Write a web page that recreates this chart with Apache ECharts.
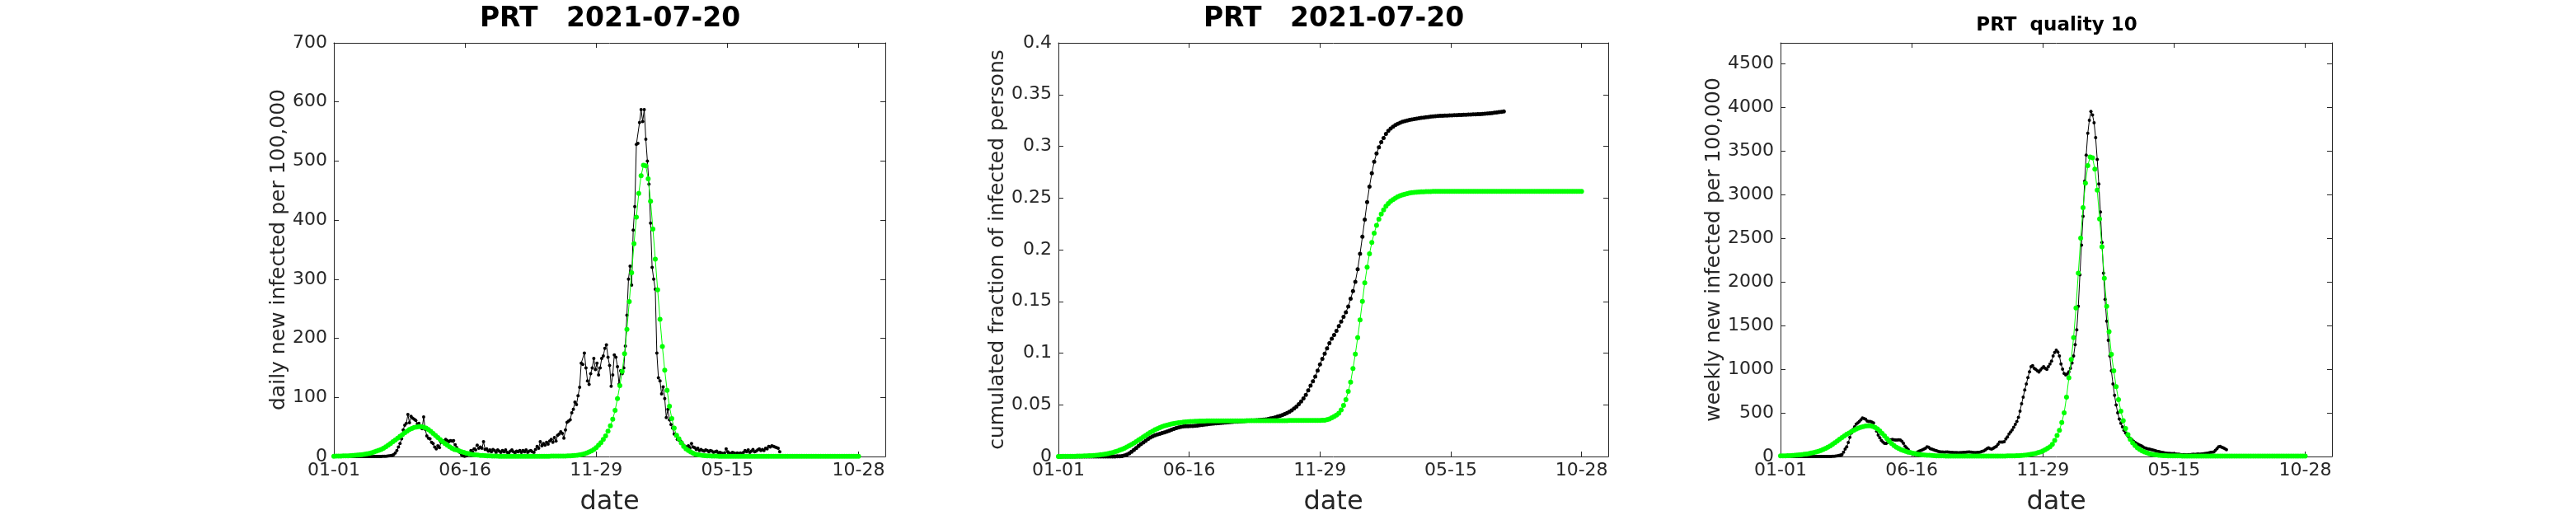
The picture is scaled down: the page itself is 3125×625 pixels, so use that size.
<!DOCTYPE html>
<html><head><meta charset="utf-8">
<script src="https://cdn.jsdelivr.net/npm/echarts@6/dist/echarts.min.js"></script>
<style>html,body{margin:0;padding:0;background:#fff}#c{width:3125px;height:625px}</style>
</head><body><div id="c"></div>
<script>
// ---------------- data ----------------
const xTickDays = [0, 166.5, 333, 499.5, 666];
const xTickLabels = ['01-01', '06-16', '11-29', '05-15', '10-28'];
const xMaxDay = 700;

const titles = ['PRT   2021-07-20', 'PRT   2021-07-20', 'PRT  quality 10'];
const yNames = ['daily new infected per 100,000', 'cumulated fraction of infected persons', 'weekly new infected per 100,000'];
const xName = 'date';
const yMax = [700, 0.4, 4736];
const yTicks1 = [0, 100, 200, 300, 400, 500, 600, 700];
const yTicks2 = [0, 0.05, 0.1, 0.15, 0.2, 0.25, 0.3, 0.35, 0.4];
const yTicks3 = [0, 500, 1000, 1500, 2000, 2500, 3000, 3500, 4000, 4500];

// day spacing of the stored samples
const observedStep = 2;   // daily & weekly observations: one value every 2 days from day 0
const modelStep = 3;      // model curves and cumulated values: one value every 3 days from day 0

// panel 1: daily new infected per 100,000 (observed, every 2 days)
const dailyObserved = [
0,0,0,0,0,0,0,0,0,0,
0,0,0,0,0,0,0,0,0,0,
0,0,0,0,0,0,0,0,0,0,
0,0.2,0.3,0.5,0.8,1,1.5,2,3,6,
10,16,22,30,45,53,56,71,57,68,
65,63,61,55,56,50,47,67,46,35,
31,30,24,22,16,13,18,15,24,27,
26,29,27,25,27,26,27,20,15,11,
7,3,1,0.5,1,3,6,10,8,13,
11,19,14,16,14,25,12,13,9,11,
8,12,10,7,11,9,7,10,8,11,
7,6,9,11,8,6,9,8,10,7,
10,8,11,7,9,10,8,7,12,17,
14,25,18,22,19,24,21,26,29,24,
32,26,36,38,42,39,31,45,58,60,
62,74,80,92,88,103,117,158,156,175,
150,128,122,140,150,166,147,158,138,150,
166,170,183,189,168,154,119,138,172,168,
152,122,145,140,150,187,239,300,322,290,
383,423,528,530,565,587,567,587,537,500,
461,395,320,300,283,175,133,128,106,118,
98,66,80,62,54,48,38,35,29,28,
26,24,19,17,15,18,14,22,16,15,
12,14,10,12,10,9,11,10,8,10,
9,7,8,9,6,7,6,5,6,13,
8,6,5,7,6,5,6,5,6,5,
7,10,8,11,7,9,12,8,9,11,
13,10,12,10,14,13,17,16,18,17,
16,15,14,8];

// panel 1: daily model (every 3 days)
const dailyModel = [
0.5,0.6,0.7,0.8,0.9,1.0,1.2,1.4,1.7,2.0,
2.3,2.7,3.2,3.8,4.5,5.4,6.4,7.6,9,10.5,
12,14,16.5,19,22,25,28,31,34,37,
40,43,45.5,47.5,49,50,50.5,50.5,49.5,48,
45.5,42.5,39,35.5,32,28.5,25,22,19,16.5,
14,12,11,9.5,8,6.8,5.7,4.8,4.0,3.3,
2.8,2.3,1.9,1.6,1.3,1.1,0.9,0.8,0.7,0.6,
0.5,0.5,0.5,0.5,0.4,0.4,0.4,0.4,0.4,0.4,
0.4,0.4,0.4,0.4,0.4,0.4,0.4,0.4,0.5,0.5,
0.5,0.5,0.6,0.6,0.6,0.7,0.7,0.8,0.8,0.9,
1.0,1.3,1.7,2.2,2.8,3.6,4.6,5.9,7.5,9.5,
12,15,19,23.5,29,35,43,52,63,78,
98,120,144,174,215,262,311,360,405,445,
475,493,492,470,432,385,334,282,232,186,
146,112,85,64,48,36,30,23,17,13,
10,7.5,5.5,4,3,2.3,1.8,1.4,1.1,0.9,
0.7,0.6,0.6,0.5,0.5,0.5,0.5,0.4,0.4,0.4,
0.4,0.4,0.4,0.4,0.4,0.4,0.4,0.4,0.4,0.4,
0.4,0.4,0.4,0.3,0.3,0.3,0.3,0.3,0.3,0.3,
0.3,0.3,0.3,0.3,0.3,0.3,0.3,0.3,0.3,0.3,
0.3,0.3,0.3,0.3,0.3,0.3,0.3,0.3,0.3,0.3,
0.3,0.3,0.3,0.3,0.3,0.3,0.3,0.3,0.3,0.3,
0.3,0.3,0.3];

// panel 2: cumulated fraction, observed (every 3 days)
const cumObserved = [
0,0,0,0,0,0,0,0,0,0,
0,0,0,0,0,0,0,0,0,0,
0,0,0,0.00002,0.00005,0.0001,0.0002,0.0004,0.0009,0.0017,
0.003,0.0045,0.0063,0.0082,0.0101,0.0119,0.0136,0.0152,0.0169,0.0184,
0.0195,0.0205,0.0214,0.022,0.0227,0.0234,0.0242,0.025,0.0258,0.0266,
0.0274,0.0281,0.0286,0.029,0.0292,0.0293,0.0294,0.0295,0.0297,0.0299,
0.0302,0.0305,0.0308,0.0311,0.0314,0.0316,0.0318,0.032,0.0322,0.0324,
0.0326,0.0328,0.033,0.0332,0.0334,0.0336,0.0337,0.0339,0.0341,0.0343,
0.0344,0.0346,0.0348,0.0349,0.0351,0.0352,0.0354,0.0356,0.0359,0.0363,
0.0368,0.0373,0.0379,0.0386,0.0393,0.0401,0.041,0.0421,0.0433,0.0447,
0.0464,0.0483,0.0506,0.0532,0.0562,0.0596,0.064,0.0685,0.0728,0.0772,
0.083,0.089,0.0945,0.0995,0.1045,0.1095,0.114,0.1175,0.1215,0.126,
0.1305,0.135,0.1395,0.145,0.1525,0.16,0.169,0.181,0.196,0.2125,
0.229,0.246,0.261,0.274,0.285,0.293,0.299,0.304,0.308,0.312,
0.315,0.3172,0.319,0.3205,0.3218,0.3228,0.3237,0.3244,0.325,0.3255,
0.3259,0.3263,0.3267,0.3271,0.3274,0.3277,0.328,0.3283,0.3286,0.3288,
0.329,0.3292,0.3294,0.3295,0.3296,0.3297,0.3298,0.3299,0.33,0.3301,
0.3302,0.3303,0.3304,0.3305,0.3306,0.3307,0.3308,0.3309,0.331,0.3311,
0.3313,0.3315,0.3317,0.3319,0.3321,0.3324,0.3327,0.333,0.3333,0.3336];

// panel 2: cumulated fraction, model (every 3 days)
const cumModel = [
0,0,0.0001,0.0001,0.0001,0.0001,0.0002,0.0002,0.0003,0.0003,
0.0004,0.0005,0.0006,0.0007,0.0008,0.001,0.0012,0.0014,0.0017,0.002,
0.0024,0.0028,0.0033,0.0038,0.0045,0.0052,0.0061,0.007,0.008,0.0091,
0.0103,0.0116,0.013,0.0144,0.0159,0.0174,0.0189,0.0204,0.0219,0.0233,
0.0246,0.0258,0.0269,0.0279,0.0288,0.0296,0.0303,0.0309,0.0314,0.0319,
0.0323,0.0326,0.0329,0.0332,0.0334,0.0336,0.0338,0.0339,0.034,0.0341,
0.0342,0.0343,0.0343,0.0344,0.0344,0.0344,0.0345,0.0345,0.0345,0.0345,
0.0345,0.0345,0.0345,0.0345,0.0345,0.0345,0.0345,0.0345,0.0345,0.0345,
0.0346,0.0346,0.0346,0.0346,0.0346,0.0346,0.0346,0.0346,0.0346,0.0346,
0.0346,0.0346,0.0346,0.0347,0.0347,0.0347,0.0347,0.0347,0.0348,0.0348,
0.0348,0.0348,0.0348,0.0348,0.0348,0.0349,0.0349,0.0349,0.0349,0.0349,
0.0349,0.0349,0.035,0.035,0.0356,0.0363,0.0374,0.0386,0.04,0.0418,
0.045,0.0495,0.055,0.063,0.072,0.085,0.099,0.115,0.132,0.15,
0.168,0.183,0.196,0.207,0.216,0.2235,0.2295,0.2345,0.2385,0.242,
0.2447,0.2468,0.2485,0.2499,0.2511,0.2521,0.2529,0.2536,0.2542,0.2547,
0.2551,0.2554,0.2556,0.2558,0.2559,0.256,0.2561,0.2562,0.2562,0.2563,
0.2563,0.2563,0.2563,0.2563,0.2564,0.2564,0.2564,0.2564,0.2564,0.2564,
0.2564,0.2564,0.2564,0.2564,0.2564,0.2564,0.2564,0.2564,0.2564,0.2564,
0.2564,0.2564,0.2564,0.2564,0.2564,0.2564,0.2564,0.2564,0.2564,0.2564,
0.2564,0.2564,0.2564,0.2564,0.2564,0.2564,0.2564,0.2564,0.2564,0.2564,
0.2564,0.2564,0.2564,0.2564,0.2564,0.2564,0.2564,0.2564,0.2564,0.2564,
0.2564,0.2564,0.2564,0.2564,0.2564,0.2564,0.2564,0.2564,0.2564,0.2564,
0.2564,0.2564,0.2564];

// panel 3: weekly new infected per 100,000, observed (every 2 days)
const weeklyObserved = [
0,0,0,0,0,0,0,0,0,0,
0,0,0,0,0,0,0,0,0,0,
0,0,0,0,0,0,0,0,0,0,
0,0.5,1,2,3,5,8,12,16,22,
50,85,110,160,220,270,310,340,370,385,
400,420,440,435,428,405,400,400,395,385,
330,290,245,215,185,165,150,148,160,189,
192,195,192,189,189,190,188,175,150,118,
100,80,53,40,30,22,35,53,62,69,
75,85,95,110,105,90,85,78,70,65,
60,55,53,52,50,53,52,50,48,47,
44,45,44,43,45,44,46,48,50,52,
53,50,47,45,44,46,48,52,58,63,
75,90,100,90,85,95,105,116,140,164,
164,165,170,201,225,258,280,305,335,368,
400,447,520,604,680,761,830,903,970,1028,
1040,1010,997,980,966,990,1013,1028,1010,997,
1028,1060,1091,1150,1190,1217,1195,1150,1060,1000,
950,934,945,970,1010,1070,1150,1280,1450,1720,
2080,2420,2750,3150,3450,3700,3850,3950,3910,3820,
3650,3400,3120,2800,2450,2100,1800,1550,1330,1150,
980,830,700,590,500,430,380,340,300,270,
245,225,205,190,175,160,148,138,130,122,
110,100,94,88,84,80,75,70,65,60,
56,52,48,44,41,38,36,35,33,32,
30,28,26,25,22,20,22,19,20,22,
22,23,25,24,26,28,27,29,30,32,
35,38,42,46,50,53,70,90,110,116,
105,100,90,79];

// panel 3: weekly model (every 3 days)
const weeklyModel = [
6,7,8,9,10,12,14,16,19,22,
25,29,34,39,45,52,60,69,80,92,
105,120,138,157,177,197,217,237,254,270,
285,300,313,325,335,343,349,352,351,345,
333,315,292,265,236,205,175,148,125,106,
92,79,68,58,50,44,37,32,27,23,
20,17,15,13,11,10,8,7,6,6,
5,5,5,4,4,4,4,4,4,4,
4,4,4,4,4,4,4,4,4,4,
4,4,5,5,5,5,6,6,7,8,
9,10,12,14,17,21,25,30,36,44,
53,64,78,95,110,140,185,240,300,390,
500,680,900,1110,1360,1700,2100,2500,2850,3130,
3330,3430,3420,3290,3050,2720,2400,2040,1720,1430,
1170,980,800,650,520,410,320,250,195,155,
124,100,80,64,52,42,34,27,22,18,
15,12,10,9,8,7,7,6,6,6,
5,5,5,5,5,5,5,5,5,5,
5,5,5,5,4,4,4,4,4,4,
4,4,4,4,4,4,4,4,4,4,
4,4,4,4,4,4,4,4,4,4,
4,4,4,4,4,4,4,4,4,4,
4,4,4];

// ---------------- chart ----------------
const FONT = 'DejaVu Sans';
const AX = '#262626';
const BLACK = '#000000';
const GREEN = '#00ff00';

const grids = [
  {left: 405, top: 52, width: 669, height: 502},
  {left: 1284, top: 52, width: 667, height: 502},
  {left: 2160, top: 52, width: 669, height: 502}
];
const yTicks = [yTicks1, yTicks2, yTicks3];
const yNameGaps = [51, 56, 61];
const titleCfg = [
  {x: 740, top: 7, size: 33},
  {x: 1618, top: 7, size: 33},
  {x: 2495, top: 20, size: 23}
];
const TICK_FONT = 22;

function fmtY(v) { return String(+v.toFixed(3)); }
function fmtX(v) {
  for (let k = 0; k < xTickDays.length; k++) if (Math.abs(xTickDays[k] - v) < 0.01) return xTickLabels[k];
  return '';
}
function toPoints(arr, step) { return arr.map((v, i) => [i * step, v]); }

const xAxes = [], yAxes = [], series = [], title = [];
for (let p = 0; p < 3; p++) {
  const line = {show: true, onZero: false, lineStyle: {color: AX, width: 1}};
  xAxes.push({
    gridIndex: p, type: 'value', position: 'bottom', min: 0, max: xMaxDay,
    axisLine: line,
    axisTick: {show: true, inside: true, length: 6, customValues: xTickDays, lineStyle: {color: AX}},
    axisLabel: {show: true, customValues: xTickDays, formatter: fmtX, margin: 6,
      fontFamily: FONT, fontSize: TICK_FONT, color: AX},
    splitLine: {show: false},
    name: xName, nameLocation: 'middle', nameGap: 40,
    nameTextStyle: {fontFamily: FONT, fontSize: 32, color: AX, lineHeight: 32}
  });
  xAxes.push({
    gridIndex: p, type: 'value', position: 'top', min: 0, max: xMaxDay,
    axisLine: line,
    axisTick: {show: true, inside: true, length: 6, customValues: xTickDays, lineStyle: {color: AX}},
    axisLabel: {show: false}, splitLine: {show: false}
  });
  yAxes.push({
    gridIndex: p, type: 'value', position: 'left', min: 0, max: yMax[p],
    axisLine: line,
    axisTick: {show: true, inside: true, length: 6, customValues: yTicks[p], lineStyle: {color: AX}},
    axisLabel: {show: true, customValues: yTicks[p], formatter: fmtY, margin: 8,
      fontFamily: FONT, fontSize: TICK_FONT, color: AX},
    splitLine: {show: false},
    name: yNames[p], nameLocation: 'middle', nameGap: yNameGaps[p],
    nameTextStyle: {fontFamily: FONT, fontSize: 25, color: AX, lineHeight: 25}
  });
  yAxes.push({
    gridIndex: p, type: 'value', position: 'right', min: 0, max: yMax[p],
    axisLine: line,
    axisTick: {show: true, inside: true, length: 6, customValues: yTicks[p], lineStyle: {color: AX}},
    axisLabel: {show: false}, splitLine: {show: false}
  });
  title.push({
    text: titles[p], left: titleCfg[p].x, top: titleCfg[p].top, textAlign: 'center', padding: 0,
    textStyle: {fontFamily: FONT, fontWeight: 'bold', fontSize: titleCfg[p].size, color: '#000', lineHeight: titleCfg[p].size}
  });
}

function lineSeries(p, data, color, size, z) {
  return {
    type: 'line', xAxisIndex: 2 * p, yAxisIndex: 2 * p, data: data,
    symbol: 'circle', symbolSize: size, showSymbol: true, showAllSymbol: true,
    lineStyle: {color: color, width: 1}, itemStyle: {color: color},
    silent: true, animation: false, z: z
  };
}
series.push(lineSeries(0, toPoints(dailyObserved, observedStep), BLACK, 4, 2));
series.push(lineSeries(0, toPoints(dailyModel, modelStep), GREEN, 6, 3));
series.push(lineSeries(1, toPoints(cumObserved, modelStep), BLACK, 5, 2));
series.push(lineSeries(1, toPoints(cumModel, modelStep), GREEN, 6, 3));
series.push(lineSeries(2, toPoints(weeklyObserved, observedStep), BLACK, 4, 2));
series.push(lineSeries(2, toPoints(weeklyModel, modelStep), GREEN, 6, 3));

const chart = echarts.init(document.getElementById('c'), null, {renderer: 'canvas'});
chart.setOption({
  backgroundColor: '#ffffff',
  animation: false,
  title: title,
  grid: grids.map(g => Object.assign({containLabel: false, outerBoundsMode: 'none'}, g)),
  xAxis: xAxes,
  yAxis: yAxes,
  series: series
});
</script></body></html>
